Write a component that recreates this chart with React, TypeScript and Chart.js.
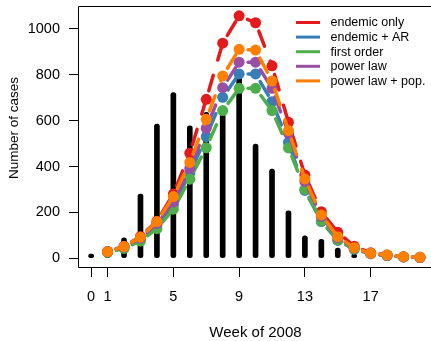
import React, { useEffect, useRef } from "react";
import { Chart, registerables } from "chart.js";

Chart.register(...registerables);

// Observed weekly cases (weeks 0..17)
const obsWeeks = [0, 1, 2, 3, 4, 5, 6, 7, 8, 9, 10, 11, 12, 13, 14, 15, 16, 17];
const observed = [18, 20, 89, 280, 585, 723, 578, 636, 630, 790, 498, 389, 207, 98, 83, 45, 18, 5];

// Fitted model means (weeks 1..20)
const fitWeeks = [1, 2, 3, 4, 5, 6, 7, 8, 9, 10, 11, 12, 13, 14, 15, 16, 17, 18, 19, 20];
const endemicOnly = [30, 52, 95, 162, 280, 458, 693, 938, 1057, 1027, 839, 593, 363, 203, 113, 52, 24, 14, 7, 4];
const endemicAR = [28, 48, 85, 145, 232, 371, 530, 702, 804, 804, 683, 505, 296, 160, 78, 40, 20, 12, 6, 3];
const firstOrder = [26, 43, 75, 129, 214, 345, 482, 644, 741, 741, 644, 481, 301, 163, 80, 40, 20, 12, 6, 3];
const powerLaw = [28, 49, 88, 152, 245, 392, 567, 744, 855, 855, 741, 545, 335, 183, 90, 44, 21, 13, 6, 3];
const powerLawPop = [29, 51, 92, 160, 269, 418, 606, 795, 911, 908, 773, 557, 346, 189, 94, 46, 22, 14, 7, 4];

const seriesNames = ["endemic only", "endemic + AR", "first order", "power law", "power law + pop."];
const seriesValues = [endemicOnly, endemicAR, firstOrder, powerLaw, powerLawPop];
const seriesColors = ["#E41A1C", "#377EB8", "#4DAF4A", "#984EA3", "#FF7F00"];

const xTicks = [0, 1, 5, 9, 13, 17];
const yTicks = [0, 200, 400, 600, 800, 1000];

const xTitle = "Week of 2008";
const yTitle = "Number of cases";

const FONT = '"Liberation Sans", Arial, Helvetica, sans-serif';

export default function App() {
  const ref = useRef<HTMLCanvasElement | null>(null);

  useEffect(() => {
    document.body.style.margin = "0";
    const canvas = ref.current;
    if (!canvas) return;

    const boxPlugin = {
      id: "boxAndText",
      afterDatasetsDraw(chart: any) {
        const { ctx, chartArea } = chart;
        const { left, top, right, bottom } = chartArea;
        ctx.save();
        ctx.strokeStyle = "#000";
        ctx.lineWidth = 1;
        ctx.beginPath();
        ctx.moveTo(right + 2, Math.round(top) + 0.5);
        ctx.lineTo(Math.round(left) + 0.5, Math.round(top) + 0.5);
        ctx.lineTo(Math.round(left) + 0.5, Math.round(bottom) + 0.5);
        ctx.lineTo(right + 2, Math.round(bottom) + 0.5);
        ctx.stroke();

        // legend
        ctx.font = "12.5px " + FONT;
        ctx.textBaseline = "middle";
        ctx.textAlign = "left";
        seriesNames.forEach((name, i) => {
          const y = 22.5 + i * 14.6;
          ctx.strokeStyle = seriesColors[i];
          ctx.lineWidth = 3;
          ctx.lineCap = "butt";
          ctx.beginPath();
          ctx.moveTo(296, y);
          ctx.lineTo(320, y);
          ctx.stroke();
          ctx.fillStyle = "#000";
          ctx.fillText(name, 330.5, y + 0.5);
        });

        // axis titles
        ctx.fillStyle = "#000";
        ctx.textAlign = "center";
        ctx.font = "15px " + FONT;
        ctx.fillText(xTitle, (left + right) / 2 + 1, 333);
        ctx.save();
        ctx.translate(14, 128);
        ctx.rotate(-Math.PI / 2);
        ctx.font = "13.5px " + FONT;
        ctx.fillText(yTitle, 0, 0);
        ctx.restore();
        ctx.restore();
      },
    };

    const lineDatasets = seriesValues.map((vals, i) => ({
      type: "line" as const,
      label: seriesNames[i],
      data: fitWeeks.map((w, j) => ({ x: w, y: vals[j] })),
      borderColor: seriesColors[i],
      backgroundColor: seriesColors[i],
      borderWidth: 3.5,
      borderDash: [16, 16],
      borderDashOffset: 23,
      borderCapStyle: "round" as const,
      pointRadius: 5.5,
      pointBorderWidth: 0,
      pointBackgroundColor: seriesColors[i],
      fill: false,
      tension: 0,
      order: 5 - i,
      segment: {
        borderDashOffset: (c: any) => 23 + (c.p0DataIndex % 2) * 0.01,
      },
    }));

    const chart = new Chart(canvas, {
      type: "line",
      data: {
        datasets: [
          {
            type: "bar" as const,
            label: "observed",
            data: obsWeeks.map((w, j) => ({ x: w, y: observed[j] })),
            backgroundColor: "#000",
            borderWidth: 0,
            barThickness: 5,
            borderRadius: 2.5,
            borderSkipped: false,
            order: 10,
          } as any,
          ...lineDatasets,
        ],
      },
      options: {
        animation: false,
        responsive: false,
        devicePixelRatio: 1,
        layout: { autoPadding: false, padding: { top: 6, left: 0, right: 0, bottom: 0 } },
        plugins: {
          legend: { display: false },
          tooltip: { enabled: false },
        },
        scales: {
          x: {
            type: "linear",
            min: -0.8,
            max: 20.67,
            offset: false,
            border: { display: false },
            grid: {
              offset: false,
              drawOnChartArea: false,
              drawTicks: true,
              tickLength: 10,
              color: "#000",
              tickColor: "#000",
              lineWidth: 1,
            },
            ticks: {
              autoSkip: false,
              maxRotation: 0,
              padding: 11,
              color: "#000",
              font: { family: FONT, size: 14.5 },
              callback: (v: any) => String(v),
            },
            afterBuildTicks: (s: any) => {
              s.ticks = xTicks.map((v) => ({ value: v }));
            },
            afterFit: (s: any) => {
              s.height = 74;
              s.paddingLeft = 0;
              s.paddingRight = 0;
              s.paddingTop = 0;
              s.paddingBottom = 0;
            },
          },
          y: {
            type: "linear",
            min: -38,
            max: 1100,
            border: { display: false },
            grid: {
              drawOnChartArea: false,
              drawTicks: true,
              tickLength: 9,
              color: "#000",
              tickColor: "#000",
              lineWidth: 1,
            },
            ticks: {
              autoSkip: false,
              padding: 9,
              color: "#000",
              font: { family: FONT, size: 14.5 },
              callback: (v: any) => String(v),
            },
            afterBuildTicks: (s: any) => {
              s.ticks = yTicks.map((v) => ({ value: v }));
            },
            afterFit: (s: any) => {
              s.width = 78;
              s.paddingLeft = 0;
              s.paddingRight = 0;
              s.paddingTop = 0;
              s.paddingBottom = 0;
            },
          },
        },
      } as any,
      plugins: [boxPlugin],
    });

    return () => chart.destroy();
  }, []);

  return (
    <div style={{ width: 431, height: 341, background: "#fff" }}>
      <canvas ref={ref} width={431} height={341} style={{ display: "block" }} />
    </div>
  );
}
